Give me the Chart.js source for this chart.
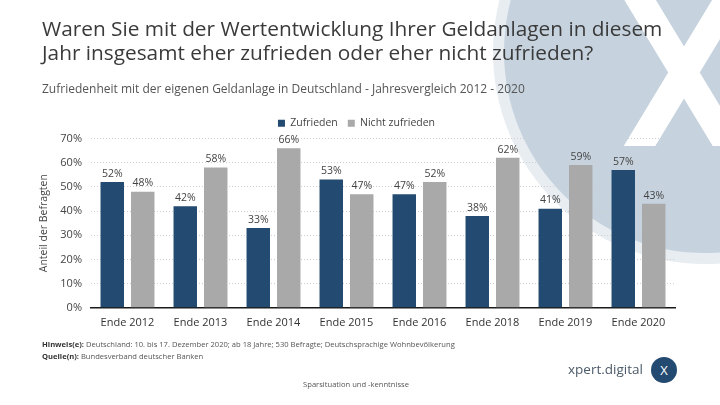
<!DOCTYPE html>
<html lang="de">
<head>
<meta charset="utf-8">
<script src="https://cdn.jsdelivr.net/npm/chart.js@4"></script>
<style>
  html, body { margin: 0; padding: 0; background: #fff; }
  #page { position: relative; width: 720px; height: 405px; overflow: hidden; font-family: 'Open Sans', sans-serif; }
  #chart { position: absolute; left: 0; top: 0; z-index: 0; }
  .txt { position: absolute; z-index: 1; white-space: nowrap; }
  #title { left: 42px; top: 16px; font-size: 20.8px; line-height: 24px; color: #3a3a3a; }
  #subtitle { left: 42px; top: 80px; font-size: 12px; color: #555; }
  #note { left: 42px; top: 338px; font-size: 7.6px; line-height: 12px; color: #555; }
  #note b { color: #333; }
  #footer { left: 0; width: 712px; top: 379px; font-size: 7.6px; color: #555; text-align: center; }
  #brand { left: 568px; top: 360px; font-size: 13.5px; color: #4b5a68; }
  #brand-x { position: absolute; z-index: 1; left: 651px; top: 357px; width: 26px; height: 26px; border-radius: 50%;
    background: #234a70; color: #fff; font-size: 13px; line-height: 26px; text-align: center; }
</style>
</head>
<body>
<div id="page">
  <canvas id="chart" width="720" height="405"></canvas>
  <div class="txt" id="title">Waren Sie mit der Wertentwicklung Ihrer Geldanlagen in diesem<br>Jahr insgesamt eher zufrieden oder eher nicht zufrieden?</div>
  <div class="txt" id="subtitle">Zufriedenheit mit der eigenen Geldanlage in Deutschland - Jahresvergleich 2012 - 2020</div>
  <div class="txt" id="note"><b>Hinweis(e):</b> Deutschland: 10. bis 17. Dezember 2020; ab 18 Jahre; 530 Befragte; Deutschsprachige Wohnbevölkerung<br><b>Quelle(n):</b> Bundesverband deutscher Banken</div>
  <div class="txt" id="footer">Sparsituation und -kenntnisse</div>
  <div class="txt" id="brand">xpert.digital</div>
  <div id="brand-x">X</div>
</div>
<script>
const categories = ['Ende 2012', 'Ende 2013', 'Ende 2014', 'Ende 2015', 'Ende 2016', 'Ende 2018', 'Ende 2019', 'Ende 2020'];
const zufrieden = [52, 42, 33, 53, 47, 38, 41, 57];
const nichtZufrieden = [48, 58, 66, 47, 52, 62, 59, 43];
const seriesNames = ['Zufrieden', 'Nicht zufrieden'];
const yTicks = [0, 10, 20, 30, 40, 50, 60, 70];

const DARK = '#234a70';
const GREY = '#a9a9a9';

// big faded logo behind everything
const watermark = {
  id: 'watermark',
  beforeDraw: (chart) => {
    const { ctx } = chart;
    ctx.save();
    ctx.fillStyle = '#e8edf2';
    ctx.beginPath();
    ctx.arc(705, 52, 212, 0, Math.PI * 2);
    ctx.fill();
    ctx.fillStyle = '#c6d3df';
    ctx.beginPath();
    ctx.arc(705, 52, 201, 0, Math.PI * 2);
    ctx.fill();
    ctx.beginPath();
    ctx.rect(560, 0, 200, 146);
    ctx.clip();
    ctx.strokeStyle = '#ffffff';
    ctx.lineWidth = 27;
    ctx.beginPath();
    ctx.moveTo(628, -20);
    ctx.lineTo(740, 165);
    ctx.moveTo(740, -20);
    ctx.lineTo(628, 165);
    ctx.stroke();
    ctx.restore();
  },
};

const barLabels = {
  id: 'barLabels',
  afterDatasetsDraw: (chart) => {
    const { ctx } = chart;
    ctx.save();
    ctx.font = '10.5px "Open Sans"';
    ctx.fillStyle = '#444';
    ctx.textAlign = 'center';
    ctx.textBaseline = 'bottom';
    chart.data.datasets.forEach((ds, i) => {
      chart.getDatasetMeta(i).data.forEach((bar, j) => {
        ctx.fillText(`${ds.data[j]}%`, bar.x, bar.y - 3);
      });
    });
    ctx.restore();
  },
};

new Chart(document.getElementById('chart'), {
  type: 'bar',
  data: {
    labels: categories,
    datasets: [
      { label: seriesNames[0], data: zufrieden, backgroundColor: DARK },
      { label: seriesNames[1], data: nichtZufrieden, backgroundColor: GREY },
    ],
  },
  options: {
    responsive: false,
    animation: false,
    devicePixelRatio: 1,
    categoryPercentage: 0.835,
    barPercentage: 0.77,
    layout: { padding: { left: 38, right: 45, top: 108, bottom: 76 } },
    plugins: {
      legend: {
        labels: {
          font: { family: 'Open Sans', size: 10.5 },
          color: '#444',
          boxWidth: 7,
          boxHeight: 7,
          padding: 10,
        },
      },
      tooltip: { enabled: false },
    },
    scales: {
      x: {
        grid: { display: false },
        border: { display: true, color: '#1a1a1a', width: 1.5 },
        ticks: { font: { family: 'Open Sans', size: 11 }, color: '#333', padding: 0 },
      },
      y: {
        min: 0,
        max: 70,
        afterBuildTicks: (s) => { s.ticks = yTicks.map((v) => ({ value: v })); },
        grid: { color: '#cfcfcf', drawTicks: false, lineWidth: 1 },
        border: { display: false, dash: [1, 2] },
        ticks: { font: { family: 'Open Sans', size: 11 }, color: '#444', padding: 9, callback: (v) => `${v}%` },
        title: { display: true, text: 'Anteil der Befragten', font: { family: 'Open Sans', size: 10.5 }, color: '#444', padding: 0 },
        afterFit: (s) => { s.width = 53; },
      },
    },
  },
  plugins: [watermark, barLabels],
});
</script>
</body>
</html>
